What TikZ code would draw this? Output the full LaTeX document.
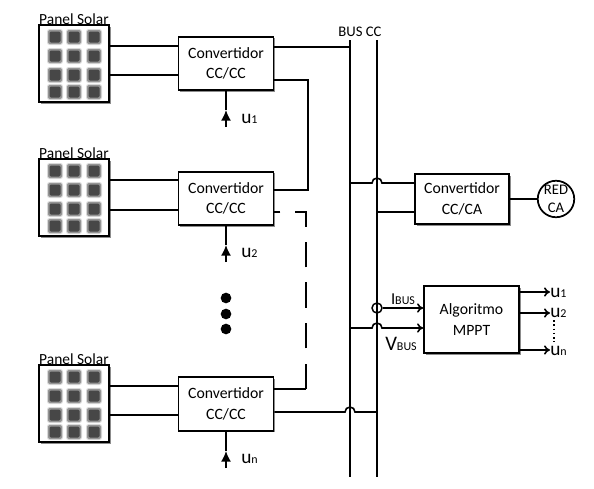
\documentclass[tikz,border=0pt]{standalone}
\usepackage{fontspec}
\setmainfont{Carlito}
\usetikzlibrary{arrows.meta,shadows}

\tikzset{
    wire/.style={line width=1.2pt, black},
    box/.style={rectangle, draw=black, line width=1.4pt, fill=white, align=center, font=\fontsize{11.8}{15.5}\selectfont,
        drop shadow={shadow xshift=1.2pt, shadow yshift=-1.2pt, opacity=0.45, fill=black}},
    panel/.style={box, minimum width=52.5pt, minimum height=57.75pt},
    conv/.style={box, minimum width=71.25pt, minimum height=40pt},
    txt/.style={inner sep=0pt, font=\fontsize{14.5}{16}\selectfont},
    sigout/.style={wire, -{To[length=4.5pt,width=7pt]}},
    ctrl/.style={wire, -{Latex[length=8pt,width=7.5pt]}},
    blackdot/.style={circle, fill=black, inner sep=0pt, minimum size=8pt},
}
\newcommand{\smallsub}[2]{#1{\fontsize{9}{10}\selectfont #2}}

\begin{document}
\begin{tikzpicture}[x=0.75pt, y=-0.75pt]
        \useasboundingbox (0,0) rectangle (594,489);

        % paneles
        \foreach \name/\ytop in {panela/25, panelb/159, panelc/365} {
            \node[panel] (\name) at (74,\ytop+38.5) {};
            \node[txt, font=\fontsize{11.6}{13}\selectfont] (\name label) at (74,\ytop-6) {Panel Solar};
            \foreach \cx in {55,74,94} {
                \foreach \cy in {12,31,50,67} {
                    \fill[black!15, rounded corners=2pt] (\cx-8,\ytop+\cy-8) rectangle (\cx+8,\ytop+\cy+8);
                    \fill[black!42, rounded corners=1.5pt] (\cx-7,\ytop+\cy-7) rectangle (\cx+7,\ytop+\cy+7);
                    \fill[black!72, rounded corners=1pt] (\cx-5.5,\ytop+\cy-5.5) rectangle (\cx+5.5,\ytop+\cy+5.5);
                }
            }
        }

        % convertidores
        \node[conv] (conva) at (226,63.5) {Convertidor\\CC/CC};
        \node[conv] (convb) at (226,198.5) {Convertidor\\CC/CC};
        \node[conv] (convc) at (226,404) {Convertidor\\CC/CC};
        \node[box, minimum width=70.5pt, minimum height=37.5pt] (convca) at (462,199) {Convertidor\\CC/CA};
        \node[box, minimum width=71.25pt, minimum height=50.25pt] (mppt) at (471.5,319.5) {Algoritmo\\MPPT};
        \node[circle, draw=black, line width=1.3pt, minimum size=22.5pt, inner sep=0pt, align=center,
            font=\fontsize{11}{13.5}\selectfont] (red) at (556,199) {RED\\CA};

        % bus
        \node[txt, font=\fontsize{11}{13}\selectfont] (buslabel) at (360,32) {BUS CC};
        \coordinate (busatop) at (350,40);
        \coordinate (busabot) at (350,477);
        \coordinate (busbtop) at (377,40);
        \coordinate (busbbot) at (377,477);
        \draw[wire, line width=1.5pt] (busatop) -- (busabot);
        \draw[wire] (busbtop) -- (busbbot);

        % panel a convertidor
        \draw[wire] (panela.east |- 0,46) -- (conva.west |- 0,46);
        \draw[wire] (panela.east |- 0,75) -- (conva.west |- 0,75);
        \draw[wire] (panelb.east |- 0,180) -- (convb.west |- 0,180);
        \draw[wire] (panelb.east |- 0,210) -- (convb.west |- 0,210);
        \draw[wire] (panelc.east |- 0,386) -- (convc.west |- 0,386);
        \draw[wire] (panelc.east |- 0,415) -- (convc.west |- 0,415);

        % salidas de los convertidores
        \draw[wire, line width=1.5pt] (conva.east |- 0,47) -- (busatop |- 0,47);
        \draw[wire] (conva.east |- 0,80) -| (308,190) -- (convb.east |- 0,190);
        \coordinate (dashcorner) at (306,389);
        \draw[wire] (convc.east |- dashcorner) -- (dashcorner);
        \draw[wire, dash pattern=on 19.1pt off 11.3pt] (dashcorner) -- (306,212) -- (convb.east |- 0,212);
        \draw[wire] (convc.east |- 0,412) -- (345,412) arc[start angle=180, end angle=0, radius=3.75pt] -- (busbtop |- 0,412);

        % entradas u
        \foreach \name/\ybox/\yend in {a/90/127, b/225/262, c/431/468} {
            \coordinate (ctrl\name) at (226,\yend);
            \coordinate (tip\name) at (226,\yend-17);
            \draw[ctrl] (ctrl\name) -- (tip\name);
            \draw[wire] (tip\name) -- (conv\name.south);
        }
        \node[txt, anchor=west] (ua) at (241,119) {\smallsub{u}{1}};
        \node[txt, anchor=west] (ub) at (241,253) {\smallsub{u}{2}};
        \node[txt, anchor=west] (uc) at (241,459) {\smallsub{u}{n}};

        % puntos
        \node[blackdot] (dota) at (226,298) {};
        \node[blackdot] (dotb) at (226,314) {};
        \node[blackdot] (dotc) at (226,329) {};

        % convertidor CC/CA
        \draw[wire] (busatop |- 0,183) -- (372,183) arc[start angle=180, end angle=0, radius=3.75pt] -- (convca.west |- 0,183);
        \draw[wire] (busbtop |- 0,212) -- (convca.west |- 0,212);
        \draw[wire, line width=1.5pt] (convca) -- (red);

        % medidas
        \node[circle, draw=black, line width=1.1pt, minimum size=7.5pt, inner sep=0pt] (isense) at (377,308) {};
        \draw[sigout] (isense) -- (mppt.west |- isense);
        \coordinate (vin) at (400,328);
        \draw[wire] (busatop |- vin) -- (372,328) arc[start angle=180, end angle=0, radius=3.75pt] -- (vin);
        \draw[sigout] (vin) -- (mppt.west |- vin);
        \node[txt, font=\fontsize{12.5}{15}\selectfont] (ibus) at (403,299) {\smallsub{I}{BUS}};
        \node[txt, font=\fontsize{15.5}{17}\selectfont] (vbus) at (401,344) {\smallsub{V}{BUS}};

        % salidas del algoritmo
        \coordinate (oa) at (550,292);
        \coordinate (ob) at (550,313);
        \coordinate (oc) at (550,350);
        \draw[sigout] (mppt.east |- oa) -- (oa);
        \draw[sigout] (mppt.east |- ob) -- (ob);
        \draw[sigout] (mppt.east |- oc) -- (oc);
        \node[txt, anchor=west] (ya) at (550,293) {\smallsub{u}{1}};
        \node[txt, anchor=west] (yb) at (550,313) {\smallsub{u}{2}};
        \node[txt, anchor=west] (yc) at (550,351) {\smallsub{u}{n}};
        \coordinate (dotsa) at (554,320);
        \coordinate (dotsb) at (554,342);
        \draw[wire, dotted] (dotsa) -- (dotsb);

\end{tikzpicture}
\end{document}
